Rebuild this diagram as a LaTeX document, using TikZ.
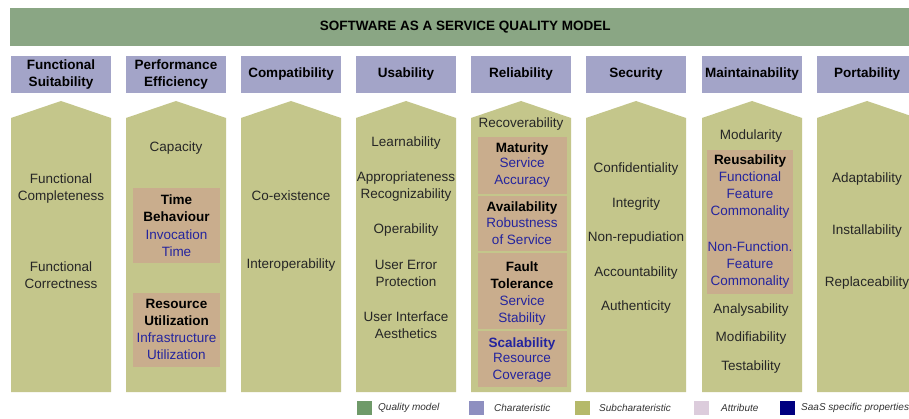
\documentclass[tikz,border=0pt]{standalone}
\usepackage{fontspec}
\setmainfont{Liberation Sans}
\definecolor{qgreen}{HTML}{8AA684}
\definecolor{cblue}{HTML}{A3A4C8}
\definecolor{olive}{HTML}{C4C68B}
\definecolor{tanbox}{HTML}{C9AD8D}
\definecolor{saas}{HTML}{24249E}
\definecolor{lgreen}{HTML}{6F9A69}
\definecolor{lblue}{HTML}{8E8FC0}
\definecolor{lolive}{HTML}{B5B96A}
\definecolor{lattr}{HTML}{DCCCDC}
\definecolor{navy}{HTML}{000080}
\begin{document}
\begin{tikzpicture}[x=1pt,y=-1pt,
  band/.style={fill=qgreen,draw=none,minimum width=910pt,minimum height=38pt,inner sep=0pt,
    font=\bfseries\fontsize{13.5}{16}\selectfont},
  charbox/.style={fill=cblue,draw=none,minimum width=100pt,minimum height=37pt,inner sep=0pt,
    align=center,font=\bfseries\fontsize{13.5}{17}\selectfont},
  subarrow/.style={fill=olive,draw=none},
  attrbox/.style={fill=tanbox,draw=none,inner sep=0pt},
  subtxt/.style={inner sep=0pt,align=center,text=black!85,font=\fontsize{13.5}{17}\selectfont},
  attrtitle/.style={inner sep=0pt,align=center,text=black,font=\bfseries\fontsize{13.5}{17}\selectfont},
  attrtxt/.style={inner sep=0pt,align=center,text=saas,font=\fontsize{13.5}{17}\selectfont},
  swatch/.style={draw=none,minimum width=15pt,minimum height=14pt,inner sep=0pt},
  legtxt/.style={inner sep=0pt,anchor=west,text=black!80,font=\itshape\fontsize{10}{12}\selectfont}
]
\useasboundingbox (0,0) rectangle (909,419);
\clip (0,0) rectangle (909,419);
\fill[white] (0,0) rectangle (909,419);

% quality model band
\node[band,anchor=west] (qm) at (10,27) {SOFTWARE AS A SERVICE QUALITY MODEL};

% characteristic boxes
\node[charbox] (c1) at (61,74.5) {Functional\\Suitability};
\node[charbox] (c2) at (176,74.5) {Performance\\Efficiency};
\node[charbox] (c3) at (291,74.5) {Compatibility};
\node[charbox] (c4) at (406,74.5) {Usability};
\node[charbox] (c5) at (521,74.5) {Reliability};
\node[charbox] (c6) at (636,74.5) {Security};
\node[charbox] (c7) at (752,74.5) {Maintainability};
\node[charbox] (c8) at (867,74.5) {Portability};

% subcharacteristic arrows
\foreach \l in {11,126,241,356,471,586,702,817}{
  \path[subarrow] (\l,392) -- (\l,118) -- (\l+50,101) -- (\l+100,118) -- (\l+100,392) -- cycle;
}

% column 1
\node[subtxt] (s11) at (61,188.5) {Functional\\Completeness};
\node[subtxt] (s12) at (61,275) {Functional\\Correctness};

% column 2
\node[subtxt] (s21) at (176,148) {Capacity};
\path[attrbox] (133,188) rectangle (220,263);
\node[attrtitle] (a21) at (176.5,208.5) {Time\\Behaviour};
\node[attrtxt] (b21) at (176.5,243.5) {Invocation\\Time};
\path[attrbox] (133,293) rectangle (220,367);
\node[attrtitle] (a22) at (176.5,312.5) {Resource\\Utilization};
\node[attrtxt] (b22) at (176.5,346.5) {Infrastructure\\Utilization};

% column 3
\node[subtxt] (s31) at (291,196) {Co-existence};
\node[subtxt] (s32) at (291,265) {Interoperability};

% column 4
\node[subtxt] (s41) at (406,143) {Learnability};
\node[subtxt] (s42) at (406,187) {Appropriateness\\Recognizability};
\node[subtxt] (s43) at (406,230) {Operability};
\node[subtxt] (s44) at (406,273) {User Error\\Protection};
\node[subtxt] (s45) at (406,325.5) {User Interface\\Aesthetics};

% column 5
\node[subtxt] (s51) at (521,124) {Recoverability};
\path[attrbox] (478,137) rectangle (567,194);
\path[attrbox] (478,196) rectangle (567,251);
\path[attrbox] (478,253) rectangle (567,329);
\path[attrbox] (478,331) rectangle (567,387);
\node[attrtitle] (a51) at (522,149) {Maturity};
\node[attrtxt] (b51) at (522,173) {Service\\Accuracy};
\node[attrtitle] (a52) at (522,208) {Availability};
\node[attrtxt] (b52) at (522,231.5) {Robustness\\of Service};
\node[attrtitle] (a53) at (522,275.5) {Fault\\Tolerance};
\node[attrtxt] (b53) at (522,310.5) {Service\\Stability};
\node[attrtitle,text=saas] (a54) at (522,344) {Scalability};
\node[attrtxt] (b54) at (522,368) {Resource\\Coverage};

% column 6
\node[subtxt] (s61) at (636,169) {Confidentiality};
\node[subtxt] (s62) at (636,204) {Integrity};
\node[subtxt] (s63) at (636,238) {Non-repudiation};
\node[subtxt] (s64) at (636,273) {Accountability};
\node[subtxt] (s65) at (636,307) {Authenticity};

% column 7
\node[subtxt] (s71) at (751,136) {Modularity};
\path[attrbox] (707,150) rectangle (793,294);
\node[attrtitle] (a71) at (750,161) {Reusability};
\node[attrtxt] (b71) at (750,195.5) {Functional\\Feature\\Commonality};
\node[attrtxt] (b72) at (750,265.5) {Non-Function.\\Feature\\Commonality};
\node[subtxt] (s72) at (751,310) {Analysability};
\node[subtxt] (s73) at (751,338) {Modifiability};
\node[subtxt] (s74) at (751,367) {Testability};

% column 8
\node[subtxt] (s81) at (867,179) {Adaptability};
\node[subtxt] (s82) at (867,231) {Installability};
\node[subtxt] (s83) at (867,283) {Replaceability};

% legend
\node[swatch,fill=lgreen] (lq) at (364.5,408) {};
\node[legtxt] (tq) at (378,408) {Quality model};
\node[swatch,fill=lblue] (lc) at (476.5,408) {};
\node[legtxt] (tc) at (494,408) {Charateristic};
\node[swatch,fill=lolive] (ls) at (582.5,408) {};
\node[legtxt] (ts) at (599,408) {Subcharateristic};
\node[swatch,fill=lattr] (la) at (701.5,408) {};
\node[legtxt] (ta) at (721,408) {Attribute};
\node[swatch,fill=navy] (lp) at (787.5,408) {};
\node[legtxt] (tp) at (801,408) {SaaS specific properties};
\end{tikzpicture}
\end{document}
